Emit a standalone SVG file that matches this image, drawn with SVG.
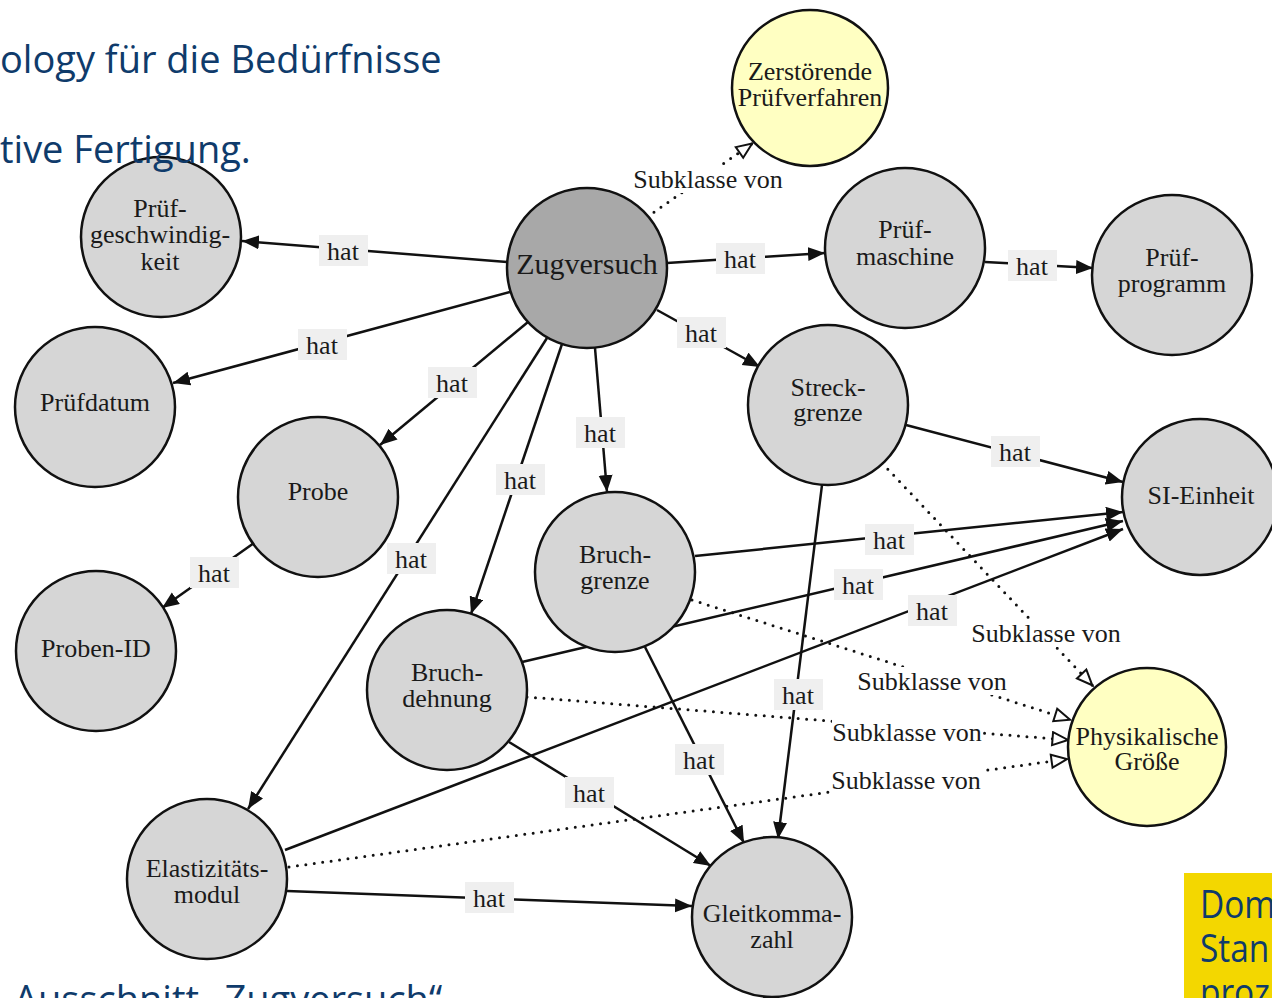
<svg xmlns="http://www.w3.org/2000/svg" width="1272" height="998" viewBox="0 0 1272 998">
  <style>
    .node circle { stroke: #111; stroke-width: 2.5; fill: #d6d6d6; }
    .node.main circle { fill: #a8a8a8; }
    .node.cls circle { fill: #ffffc2; }
    .node text { font-family: "Liberation Serif", "Times New Roman", serif; font-size: 26px; fill: #1a1a1a; text-anchor: middle; }
    .node.main text { font-size: 30px; }
    .e { stroke: #111; stroke-width: 2.5; fill: none; marker-end: url(#arrow); }
    .d { stroke: #111; stroke-width: 3; fill: none; stroke-dasharray: 0 8.5; stroke-linecap: round; marker-end: url(#hollow); }
    .lbl rect { fill: #efefef; }
    .lbl.sub rect { fill: #ffffff; }
    .lbl text { font-family: "Liberation Serif", "Times New Roman", serif; font-size: 26px; fill: #1a1a1a; text-anchor: middle; }
    .page { font-family: "Open Sans", "Noto Sans", sans-serif; font-size: 38px; fill: #0f3b6b; }
  </style>
  <defs>
    <marker id="arrow" markerUnits="userSpaceOnUse" markerWidth="18" markerHeight="15" refX="17" refY="7" orient="auto">
      <path d="M0,0 L17,7 L0,14 z" fill="#111"/>
    </marker>
    <marker id="hollow" markerUnits="userSpaceOnUse" markerWidth="20" markerHeight="17" refX="18" refY="8" orient="auto">
      <path d="M1.5,1.5 L17,8 L1.5,14.5 z" fill="#fff" stroke="#111" stroke-width="2"/>
    </marker>
  </defs>

  <rect width="1272" height="998" fill="#ffffff"/>

  <!-- connectors -->
  <g id="connectors">
    <line class="e" x1="507" y1="262" x2="242" y2="241"/>
    <line class="e" x1="667" y1="263" x2="825" y2="253"/>
    <line class="e" x1="985" y1="262" x2="1093" y2="268"/>
    <line class="e" x1="510" y1="292" x2="173" y2="383"/>
    <line class="e" x1="528" y1="322" x2="380" y2="445"/>
    <line class="e" x1="657" y1="310" x2="760" y2="367"/>
    <line class="e" x1="595" y1="348" x2="607" y2="492"/>
    <line class="e" x1="562" y1="344" x2="471" y2="614"/>
    <line class="e" x1="547" y1="338" x2="248" y2="809"/>
    <line class="d" x1="647" y1="217" x2="753" y2="143"/>
    <line class="e" x1="254" y1="543" x2="162" y2="608"/>
    <line class="e" x1="906" y1="425" x2="1123" y2="482"/>
    <line class="e" x1="822" y1="485" x2="778" y2="839"/>
    <line class="d" x1="882" y1="463" x2="1093" y2="686"/>
    <line class="e" x1="695" y1="556" x2="1123" y2="512"/>
    <line class="e" x1="645" y1="647" x2="744" y2="843"/>
    <line class="d" x1="692" y1="600" x2="1071" y2="720"/>
    <line class="e" x1="522" y1="662" x2="1123" y2="521"/>
    <line class="e" x1="509" y1="742" x2="711" y2="866"/>
    <line class="d" x1="527" y1="697" x2="1069" y2="740"/>
    <line class="e" x1="285" y1="850" x2="1123" y2="529"/>
    <line class="e" x1="287" y1="891" x2="692" y2="906"/>
    <line class="d" x1="289" y1="867" x2="1068" y2="759"/>

    <!-- edge labels -->
    <g class="lbl"><rect x="319" y="235" width="49" height="31"/><text x="343" y="260">hat</text></g>
    <g class="lbl"><rect x="716" y="243" width="49" height="31"/><text x="740" y="268">hat</text></g>
    <g class="lbl"><rect x="1008" y="250" width="49" height="31"/><text x="1032" y="275">hat</text></g>
    <g class="lbl"><rect x="298" y="329" width="49" height="31"/><text x="322" y="354">hat</text></g>
    <g class="lbl"><rect x="428" y="367" width="49" height="31"/><text x="452" y="392">hat</text></g>
    <g class="lbl"><rect x="677" y="317" width="49" height="31"/><text x="701" y="342">hat</text></g>
    <g class="lbl"><rect x="576" y="417" width="49" height="31"/><text x="600" y="442">hat</text></g>
    <g class="lbl"><rect x="496" y="464" width="49" height="31"/><text x="520" y="489">hat</text></g>
    <g class="lbl"><rect x="387" y="543" width="49" height="31"/><text x="411" y="568">hat</text></g>
    <g class="lbl"><rect x="190" y="557" width="49" height="31"/><text x="214" y="582">hat</text></g>
    <g class="lbl"><rect x="991" y="436" width="49" height="31"/><text x="1015" y="461">hat</text></g>
    <g class="lbl"><rect x="774" y="679" width="49" height="31"/><text x="798" y="704">hat</text></g>
    <g class="lbl"><rect x="865" y="524" width="49" height="31"/><text x="889" y="549">hat</text></g>
    <g class="lbl"><rect x="675" y="744" width="49" height="31"/><text x="699" y="769">hat</text></g>
    <g class="lbl"><rect x="834" y="569" width="49" height="31"/><text x="858" y="594">hat</text></g>
    <g class="lbl"><rect x="565" y="777" width="49" height="31"/><text x="589" y="802">hat</text></g>
    <g class="lbl"><rect x="908" y="595" width="49" height="31"/><text x="932" y="620">hat</text></g>
    <g class="lbl"><rect x="465" y="882" width="49" height="31"/><text x="489" y="907">hat</text></g>

    <g class="lbl sub"><rect x="633" y="165" width="150" height="28"/><text x="708" y="188">Subklasse von</text></g>
    <g class="lbl sub"><rect x="971" y="619" width="150" height="28"/><text x="1046" y="642">Subklasse von</text></g>
    <g class="lbl sub"><rect x="857" y="667" width="150" height="28"/><text x="932" y="690">Subklasse von</text></g>
    <g class="lbl sub"><rect x="832" y="718" width="150" height="28"/><text x="907" y="741">Subklasse von</text></g>
    <g class="lbl sub"><rect x="831" y="766" width="150" height="28"/><text x="906" y="789">Subklasse von</text></g>
  </g>

  <!-- nodes -->
  <g id="node-zugversuch" class="node main">
    <circle cx="587" cy="268" r="80"/>
    <text x="587" y="274">Zugversuch</text>
  </g>
  <g id="node-zerstoerende-pruefverfahren" class="node cls">
    <circle cx="810" cy="88" r="78"/>
    <text x="810" y="80">Zerstörende</text>
    <text x="810" y="106">Prüfverfahren</text>
  </g>
  <g id="node-pruefgeschwindigkeit" class="node">
    <circle cx="161" cy="237" r="80"/>
    <text x="160" y="217">Prüf-</text>
    <text x="160" y="243">geschwindig-</text>
    <text x="160" y="270">keit</text>
  </g>
  <g id="node-pruefmaschine" class="node">
    <circle cx="905" cy="248" r="80"/>
    <text x="905" y="238">Prüf-</text>
    <text x="905" y="265">maschine</text>
  </g>
  <g id="node-pruefprogramm" class="node">
    <circle cx="1172" cy="275" r="80"/>
    <text x="1172" y="266">Prüf-</text>
    <text x="1172" y="292">programm</text>
  </g>
  <g id="node-pruefdatum" class="node">
    <circle cx="95" cy="407" r="80"/>
    <text x="95" y="411">Prüfdatum</text>
  </g>
  <g id="node-streckgrenze" class="node">
    <circle cx="828" cy="405" r="80"/>
    <text x="828" y="396">Streck-</text>
    <text x="828" y="421">grenze</text>
  </g>
  <g id="node-probe" class="node">
    <circle cx="318" cy="497" r="80"/>
    <text x="318" y="500">Probe</text>
  </g>
  <g id="node-si-einheit" class="node">
    <circle cx="1200" cy="497" r="78"/>
    <text x="1201" y="504">SI-Einheit</text>
  </g>
  <g id="node-bruchgrenze" class="node">
    <circle cx="615" cy="572" r="80"/>
    <text x="615" y="563">Bruch-</text>
    <text x="615" y="589">grenze</text>
  </g>
  <g id="node-proben-id" class="node">
    <circle cx="96" cy="651" r="80"/>
    <text x="96" y="657">Proben-ID</text>
  </g>
  <g id="node-bruchdehnung" class="node">
    <circle cx="447" cy="690" r="80"/>
    <text x="447" y="681">Bruch-</text>
    <text x="447" y="707">dehnung</text>
  </g>
  <g id="node-physikalische-groesse" class="node cls">
    <circle cx="1147" cy="747" r="79"/>
    <text x="1147" y="745">Physikalische</text>
    <text x="1147" y="770">Größe</text>
  </g>
  <g id="node-elastizitaetsmodul" class="node">
    <circle cx="207" cy="879" r="80"/>
    <text x="207" y="877">Elastizitäts-</text>
    <text x="207" y="903">modul</text>
  </g>
  <g id="node-gleitkommazahl" class="node">
    <circle cx="772" cy="917" r="80"/>
    <text x="772" y="922">Gleitkomma-</text>
    <text x="772" y="948">zahl</text>
  </g>

  <!-- surrounding page text -->
  <g id="page-text">
    <text class="page" x="0" y="73">ology für die Bedürfnisse</text>
    <text class="page" x="0" y="163">tive Fertigung.</text>
    <text class="page" x="14" y="1013" font-size="37">Ausschnitt „Zugversuch“</text>
    <rect x="1184" y="873" width="88" height="125" fill="#f3d700"/>
    <g transform="translate(1200,0) scale(0.88,1)">
      <text class="page" x="0" y="918">Dom</text>
      <text class="page" x="0" y="962">Stan</text>
      <text class="page" x="0" y="1006">proz</text>
    </g>
  </g>
</svg>
